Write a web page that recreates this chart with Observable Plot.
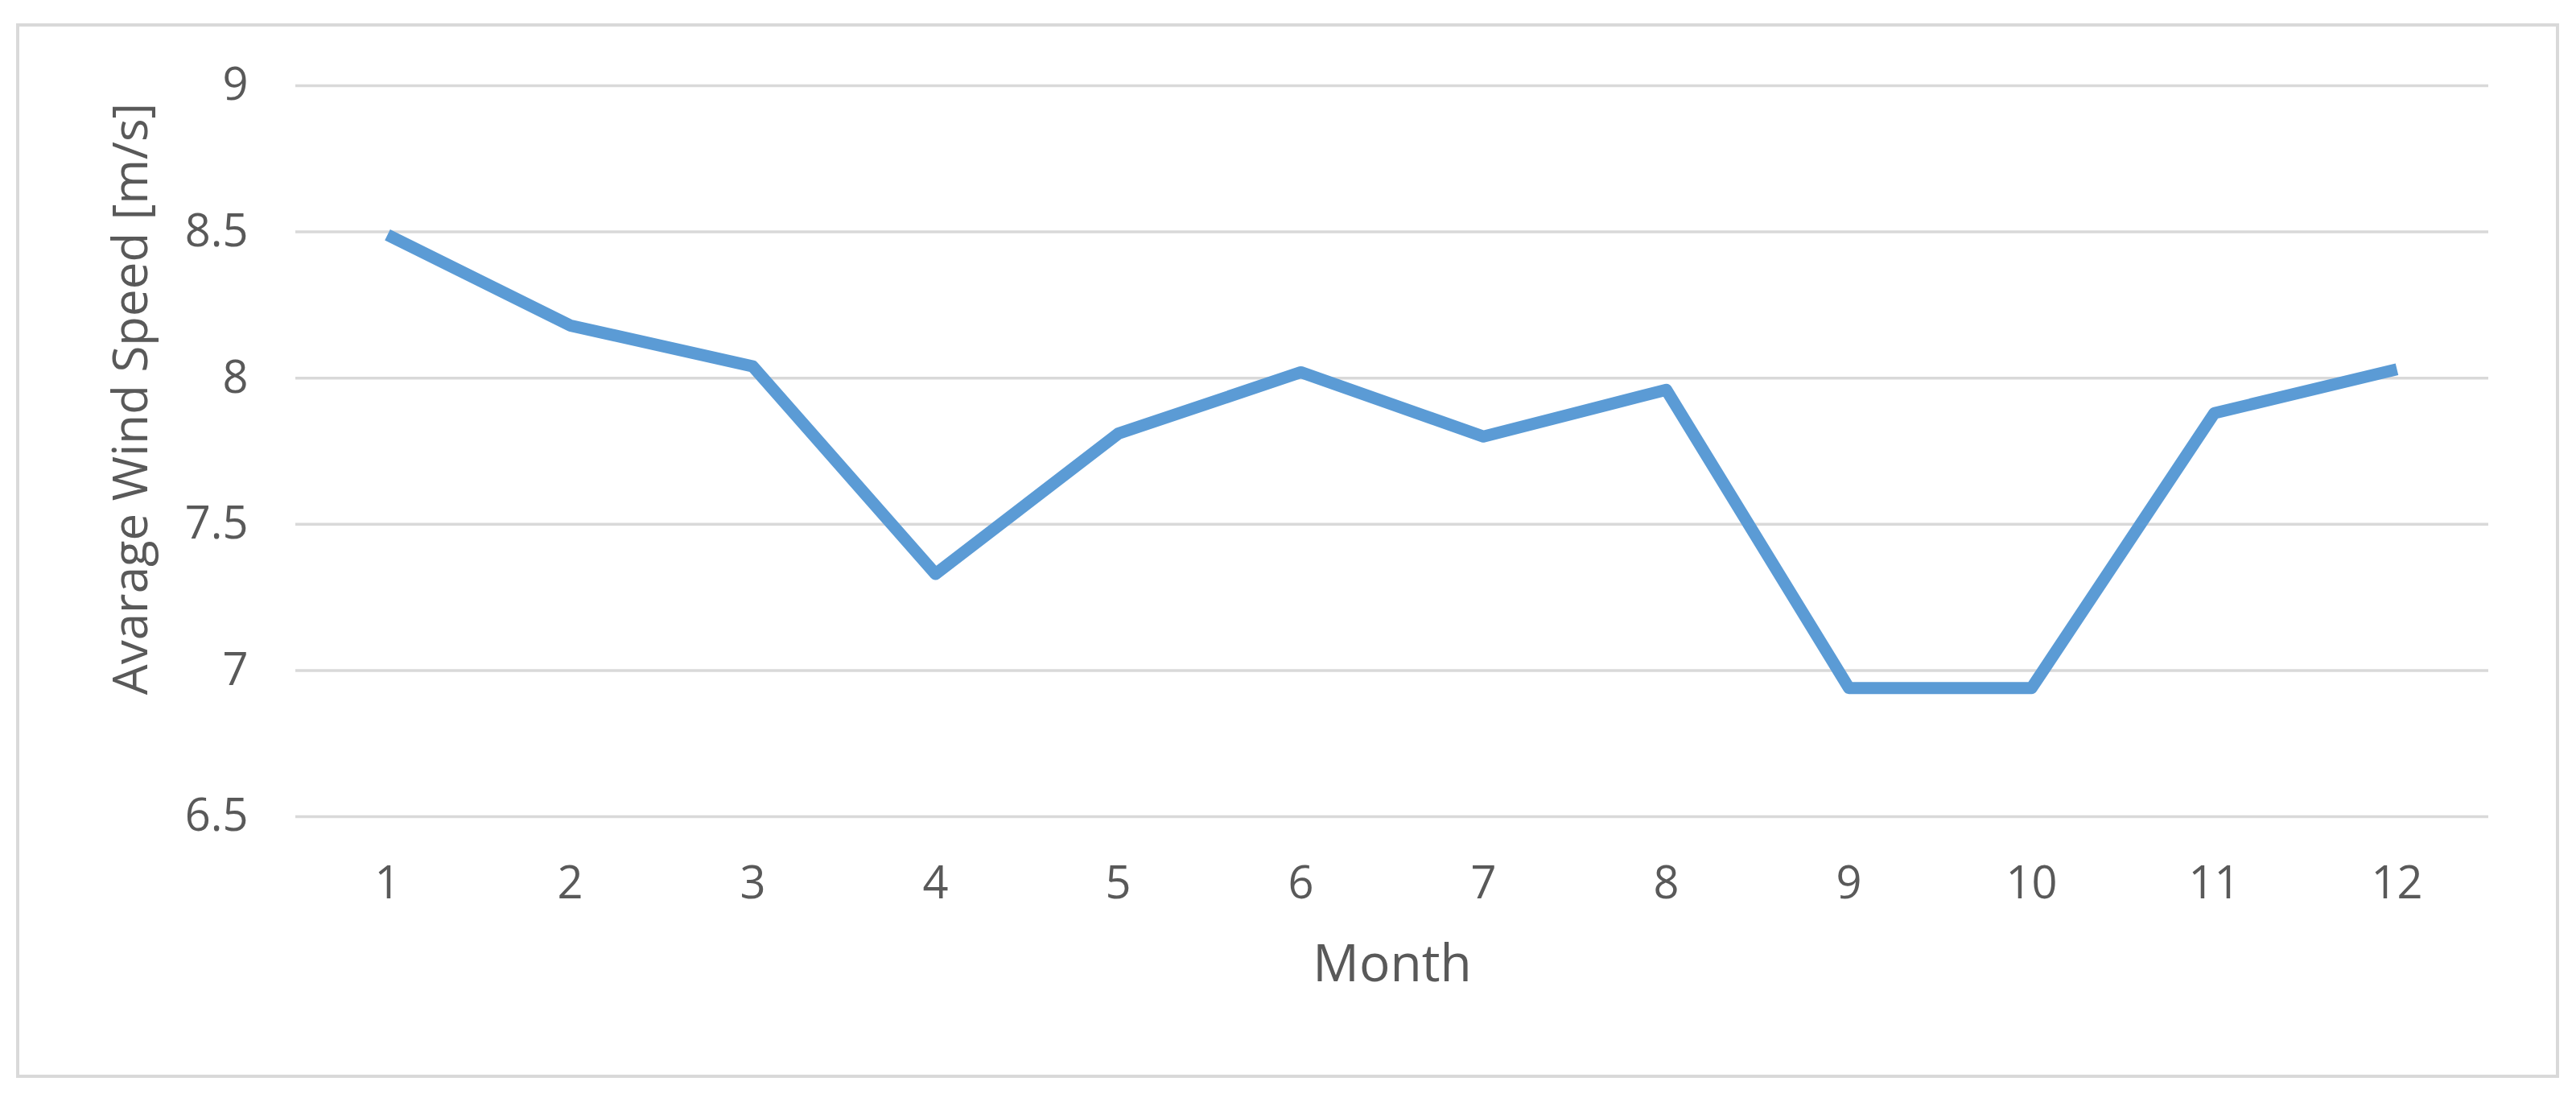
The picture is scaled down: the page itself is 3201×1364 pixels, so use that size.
<!DOCTYPE html>
<html>
<head>
<meta charset="utf-8">
<script src="https://cdn.jsdelivr.net/npm/d3@7"></script>
<script src="https://cdn.jsdelivr.net/npm/@observablehq/plot@0.6"></script>
<style>
  html, body { margin: 0; padding: 0; background: #ffffff; }
  #wrap { position: relative; width: 3201px; height: 1364px; background: #ffffff; overflow: hidden; }
  #frame { position: absolute; left: 20px; top: 29px; width: 3160px; height: 1310px;
           box-sizing: border-box; border: 4px solid #D9D9D9; pointer-events: none; }
  #chart { position: absolute; left: 0; top: 0; }
</style>
</head>
<body>
<div id="wrap"><div id="chart"></div><div id="frame"></div></div>
<script>
const months = [1, 2, 3, 4, 5, 6, 7, 8, 9, 10, 11, 12];
const windSpeed = [8.49, 8.18, 8.04, 7.33, 7.81, 8.02, 7.80, 7.96, 6.94, 6.94, 7.88, 8.03];
const yTicks = [6.5, 7, 7.5, 8, 8.5, 9];
const xTitle = "Month";
const yTitle = "Avarage Wind Speed [m/s]";

const data = months.map((m, i) => ({month: m, speed: windSpeed[i]}));

const chart = Plot.plot({
  width: 3201,
  height: 1364,
  marginLeft: 367,
  marginRight: 109,
  marginTop: 106,
  marginBottom: 350,
  style: {fontFamily: "'Open Sans', sans-serif", background: "transparent", color: "#595959"},
  x: {type: "point", domain: months, padding: 0.5, axis: null},
  y: {domain: [6.5, 9], axis: null},
  marks: [
    Plot.gridY(yTicks, {stroke: "#D9D9D9", strokeOpacity: 1, strokeWidth: 3.5}),
    Plot.axisY(yTicks, {tickSize: 0, tickPadding: 59, fontSize: 56, color: "#595959", label: null,
                        tickFormat: d => String(d)}),
    Plot.axisX(months, {tickSize: 0, tickPadding: 62, fontSize: 56, color: "#595959", label: null}),
    Plot.line(data, {x: "month", y: "speed", stroke: "#5B9BD5", strokeWidth: 15,
                     strokeLinejoin: "round", strokeLinecap: "butt"}),
    Plot.text([xTitle], {text: d => d, frameAnchor: "bottom", dy: 204, fontSize: 64, fill: "#595959"}),
    Plot.text([yTitle], {text: d => d, frameAnchor: "left", textAnchor: "middle", rotate: -90,
                         dx: -204, dy: -65, fontSize: 60, fill: "#595959"})
  ]
});
document.getElementById("chart").appendChild(chart);
</script>
</body>
</html>
